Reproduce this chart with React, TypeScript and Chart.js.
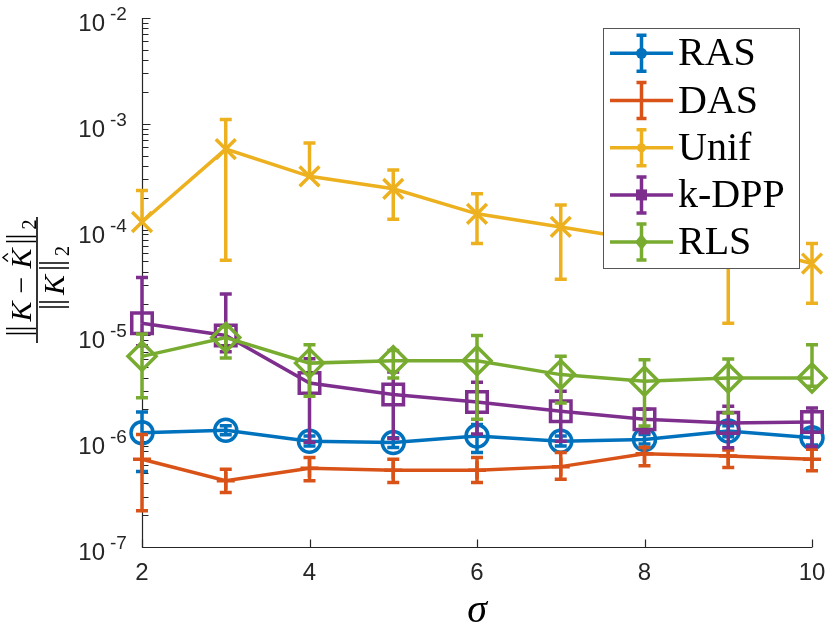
import React, { useEffect, useRef } from "react";
import { Chart, registerables } from "chart.js";

Chart.register(...registerables);

// ---------- data ----------
const sigma = [2, 3, 4, 5, 6, 7, 8, 9, 10];
const seriesNames = ["RAS", "DAS", "Unif", "k-DPP", "RLS"];
const seriesColors = ["#0072BD", "#D95319", "#EDB120", "#7E2F8E", "#77AC30"];

const rasMean = [1.2e-6, 1.27e-6, 1.0e-6, 9.7e-7, 1.12e-6, 1.0e-6, 1.04e-6, 1.25e-6, 1.08e-6];
const rasHigh = [1.89e-6, 1.4e-6, 1.12e-6, 1.08e-6, 1.44e-6, 1.12e-6, 1.16e-6, 1.4e-6, 1.25e-6];
const rasLow = [5.17e-7, 1.15e-6, 9.0e-7, 8.7e-7, 7.8e-7, 9.0e-7, 9.4e-7, 1.1e-6, 9.2e-7];

const dasMean = [6.75e-7, 4.23e-7, 5.56e-7, 5.32e-7, 5.32e-7, 5.75e-7, 7.6e-7, 7.26e-7, 6.75e-7];
const dasHigh = [1.16e-6, 5.44e-7, 7.0e-7, 6.76e-7, 7.0e-7, 7.8e-7, 8.7e-7, 8.26e-7, 8.4e-7];
const dasLow = [2.2e-7, 3.28e-7, 4.22e-7, 4.07e-7, 4.07e-7, 4.38e-7, 5.85e-7, 5.64e-7, 5.25e-7];

const unifMean = [1.18e-4, 5.77e-4, 3.19e-4, 2.43e-4, 1.41e-4, 1.06e-4, 7.9e-5, 7.6e-5, 4.78e-5];
const unifHigh = [2.34e-4, 1.1e-3, 6.57e-4, 3.66e-4, 2.18e-4, 1.71e-4, 1.3e-4, 1.2e-4, 7.37e-5];
const unifLow = [null, 5.14e-5, null, 1.25e-4, 7.37e-5, 3.4e-5, 4.5e-5, 1.3e-5, 2.01e-5];

const kdppMean = [1.3e-5, 9.97e-6, 3.55e-6, 2.76e-6, 2.35e-6, 1.92e-6, 1.61e-6, 1.49e-6, 1.52e-6];
const kdppHigh = [3.53e-5, 2.46e-5, 6.0e-6, 4.5e-6, 3.6e-6, 2.96e-6, 2.0e-6, 2.14e-6, 2.06e-6];
const kdppLow = [8.0e-6, 7.0e-6, 9.77e-7, 1.06e-6, 1.17e-6, 1.0e-6, 1.2e-6, 8.69e-7, 8.9e-7];

const rlsMean = [6.34e-6, 9.55e-6, 5.47e-6, 5.77e-6, 5.77e-6, 4.26e-6, 3.68e-6, 3.95e-6, 3.95e-6];
const rlsHigh = [1.03e-5, 1.2e-5, 8.16e-6, 7.2e-6, 9.97e-6, 6.34e-6, 5.89e-6, 5.97e-6, 8.16e-6];
const rlsLow = [2.57e-6, 6.1e-6, 2.66e-6, 3.95e-6, 1.61e-6, 2.3e-6, 1.39e-6, 1.85e-6, 3.3e-6];

const xTickValues = [2, 4, 6, 8, 10];
const yTickExponents = [-7, -6, -5, -4, -3, -2];
const xAxisTitle = "σ";

// ---------- styling ----------
const AXIS_COLOR = "#262626";
const SANS = '"Liberation Sans", Arial, sans-serif';
const SERIF = '"Liberation Serif", "Times New Roman", serif';
const LW = 3.5;

const markerStyles = [
  { style: "circle", radius: 11 },
  { style: "cross", radius: 9 },
  { style: "crossRot", radius: 14 },
  { style: "rect", radius: 14.5 },
  { style: "rectRot", radius: 14 },
];

const means = [rasMean, dasMean, unifMean, kdppMean, rlsMean];
const highs = [rasHigh, dasHigh, unifHigh, kdppHigh, rlsHigh];
const lows = [rasLow, dasLow, unifLow, kdppLow, rlsLow];

const errorBarPlugin = {
  id: "errorBars",
  afterDatasetDraw(chart: any, args: any) {
    const ds: any = chart.data.datasets[args.index];
    const { ctx } = chart;
    const xs = chart.scales.x;
    const ys = chart.scales.y;
    ctx.save();
    ctx.strokeStyle = ds.borderColor;
    ctx.lineWidth = LW;
    ctx.lineCap = "butt";
    const cap = 6;
    ds.data.forEach((p: any, i: number) => {
      const px = xs.getPixelForValue(p.x);
      const py = ys.getPixelForValue(p.y);
      const hi = ds.errHigh[i];
      const lo = ds.errLow[i];
      if (hi != null) {
        const yh = ys.getPixelForValue(hi);
        ctx.beginPath();
        ctx.moveTo(px, py);
        ctx.lineTo(px, yh);
        ctx.moveTo(px - cap, yh);
        ctx.lineTo(px + cap, yh);
        ctx.stroke();
      }
      if (lo != null) {
        const yl = ys.getPixelForValue(lo);
        ctx.beginPath();
        ctx.moveTo(px, py);
        ctx.lineTo(px, yl);
        ctx.moveTo(px - cap, yl);
        ctx.lineTo(px + cap, yl);
        ctx.stroke();
      }
    });
    ctx.restore();
  },
};

const axesPlugin = {
  id: "matlabAxes",
  beforeDatasetsDraw(chart: any) {
    const { ctx, chartArea } = chart;
    const xs = chart.scales.x;
    const ys = chart.scales.y;
    const left = Math.round(chartArea.left) + 0.5;
    const bottom = Math.round(chartArea.bottom) + 0.5;
    ctx.save();
    ctx.strokeStyle = AXIS_COLOR;
    ctx.lineWidth = 1.2;
    ctx.beginPath();
    ctx.moveTo(left, chartArea.top);
    ctx.lineTo(left, bottom);
    ctx.lineTo(chartArea.right, bottom);
    ctx.stroke();
    // y ticks (major + minor), inward
    ctx.beginPath();
    yTickExponents.forEach((e) => {
      const y = Math.round(ys.getPixelForValue(Math.pow(10, e))) + 0.5;
      ctx.moveTo(left, y);
      ctx.lineTo(left + 8, y);
      if (e < yTickExponents[yTickExponents.length - 1]) {
        for (let k = 2; k <= 9; k++) {
          const ym = Math.round(ys.getPixelForValue(k * Math.pow(10, e))) + 0.5;
          ctx.moveTo(left, ym);
          ctx.lineTo(left + 6, ym);
        }
      }
    });
    // x ticks, inward
    xTickValues.forEach((v) => {
      const x = Math.round(xs.getPixelForValue(v)) + 0.5;
      ctx.moveTo(x, bottom);
      ctx.lineTo(x, bottom - 8);
    });
    ctx.stroke();
    ctx.restore();
  },
  afterDraw(chart: any) {
    const { ctx, chartArea } = chart;
    const xs = chart.scales.x;
    const ys = chart.scales.y;
    ctx.save();
    ctx.fillStyle = AXIS_COLOR;
    // x tick labels
    ctx.font = `24px ${SANS}`;
    ctx.textAlign = "center";
    ctx.textBaseline = "alphabetic";
    xTickValues.forEach((v) => {
      ctx.fillText(String(v), xs.getPixelForValue(v), chartArea.bottom + 33);
    });
    // y tick labels 10^e
    yTickExponents.forEach((e) => {
      const y = ys.getPixelForValue(Math.pow(10, e));
      ctx.font = `24px ${SANS}`;
      ctx.textAlign = "right";
      ctx.fillText("10", 105, y + 13);
      ctx.font = `19px ${SANS}`;
      ctx.textAlign = "left";
      ctx.fillText(String(e), 110, y + 2);
    });
    // x axis title
    ctx.fillStyle = "#000";
    ctx.font = `italic 40px ${SERIF}`;
    ctx.textAlign = "center";
    ctx.fillText(xAxisTitle, (chartArea.left + chartArea.right) / 2, 622);

    // y axis title: fraction ||K - K^||_2 / ||K||_2, rotated
    drawYLabel(ctx, 37, 280);

    // legend
    drawLegend(chart);
    ctx.restore();
  },
};

type Item = { kind: "bars" } | { kind: "text"; t: string; font: string; dy?: number; hat?: boolean } | { kind: "gap"; w: number };

function itemWidth(ctx: CanvasRenderingContext2D, it: Item) {
  if (it.kind === "bars") return 19;
  if (it.kind === "gap") return it.w;
  ctx.font = it.font;
  return ctx.measureText(it.t).width;
}

function drawItems(ctx: CanvasRenderingContext2D, items: Item[], baseline: number) {
  const total = items.reduce((s, it) => s + itemWidth(ctx, it), 0);
  let x = -total / 2;
  items.forEach((it) => {
    const w = itemWidth(ctx, it);
    if (it.kind === "bars") {
      ctx.beginPath();
      ctx.lineWidth = 1.6;
      ctx.moveTo(x + 7, baseline + 5);
      ctx.lineTo(x + 7, baseline - 25);
      ctx.moveTo(x + 12, baseline + 5);
      ctx.lineTo(x + 12, baseline - 25);
      ctx.stroke();
    } else if (it.kind === "text") {
      ctx.font = it.font;
      ctx.fillText(it.t, x, baseline + (it.dy || 0));
      if (it.hat) {
        ctx.beginPath();
        ctx.lineWidth = 1.4;
        ctx.moveTo(x + w * 0.35, baseline - 23);
        ctx.lineTo(x + w * 0.55, baseline - 28);
        ctx.lineTo(x + w * 0.75, baseline - 23);
        ctx.stroke();
      }
    }
    x += w;
  });
}

function drawYLabel(ctx: CanvasRenderingContext2D, cx: number, cy: number) {
  ctx.save();
  ctx.translate(cx, cy);
  ctx.rotate(-Math.PI / 2);
  ctx.fillStyle = "#000";
  ctx.strokeStyle = "#000";
  ctx.textAlign = "left";
  ctx.textBaseline = "alphabetic";
  const it = `italic 30px ${SERIF}`;
  const nm = `30px ${SERIF}`;
  const sb = `20px ${SERIF}`;
  const num: Item[] = [
    { kind: "bars" },
    { kind: "text", t: "K", font: it },
    { kind: "gap", w: 8 },
    { kind: "text", t: "−", font: nm },
    { kind: "gap", w: 8 },
    { kind: "text", t: "K", font: it, hat: true },
    { kind: "bars" },
    { kind: "text", t: "2", font: sb, dy: 5 },
  ];
  const den: Item[] = [
    { kind: "bars" },
    { kind: "text", t: "K", font: it },
    { kind: "bars" },
    { kind: "text", t: "2", font: sb, dy: 5 },
  ];
  drawItems(ctx, num, -6);
  drawItems(ctx, den, 27);
  ctx.beginPath();
  ctx.lineWidth = 1.6;
  ctx.moveTo(-63, 0);
  ctx.lineTo(63, 0);
  ctx.stroke();
  ctx.restore();
}

function drawLegend(chart: any) {
  const { ctx } = chart;
  const bx = 603.5, by = 28.5, bw = 196, bh = 240;
  ctx.save();
  ctx.fillStyle = "#fff";
  ctx.fillRect(bx, by, bw, bh);
  ctx.strokeStyle = "#555";
  ctx.lineWidth = 1;
  ctx.strokeRect(bx, by, bw, bh);
  chart.data.datasets.forEach((ds: any, i: number) => {
    const cy = 53.3 + 47.2 * i;
    const col = ds.borderColor;
    ctx.strokeStyle = col;
    ctx.fillStyle = col;
    ctx.lineWidth = LW;
    ctx.beginPath();
    ctx.moveTo(610, cy);
    ctx.lineTo(673, cy);
    ctx.moveTo(641.5, cy - 18);
    ctx.lineTo(641.5, cy + 18);
    ctx.moveTo(636.5, cy - 18);
    ctx.lineTo(646.5, cy - 18);
    ctx.moveTo(636.5, cy + 18);
    ctx.lineTo(646.5, cy + 18);
    ctx.stroke();
    ctx.beginPath();
    const st = markerStyles[i].style;
    if (st === "circle") {
      ctx.arc(641.5, cy, 5.5, 0, Math.PI * 2);
    } else if (st === "crossRot") {
      ctx.arc(641.5, cy, 4.5, 0, Math.PI * 2);
    } else if (st === "rect") {
      ctx.rect(636, cy - 5.5, 11, 11);
    } else if (st === "rectRot") {
      ctx.moveTo(641.5, cy - 8);
      ctx.lineTo(648, cy);
      ctx.lineTo(641.5, cy + 8);
      ctx.lineTo(635, cy);
      ctx.closePath();
    }
    ctx.fill();
    ctx.fillStyle = "#000";
    ctx.font = `40px ${SERIF}`;
    ctx.textAlign = "left";
    ctx.textBaseline = "alphabetic";
    ctx.fillText(ds.label, 678, cy + 12);
  });
  ctx.restore();
}

export default function App() {
  const canvasRef = useRef<HTMLCanvasElement | null>(null);

  useEffect(() => {
    const canvas = canvasRef.current;
    if (!canvas) return;
    const datasets = seriesNames.map((name, i) => ({
      label: name,
      data: sigma.map((x, j) => ({ x, y: means[i][j] })),
      errHigh: highs[i],
      errLow: lows[i],
      borderColor: seriesColors[i],
      backgroundColor: seriesColors[i],
      borderWidth: LW,
      pointStyle: markerStyles[i].style,
      pointRadius: markerStyles[i].radius,
      pointHoverRadius: markerStyles[i].radius,
      pointBorderWidth: LW,
      pointBorderColor: seriesColors[i],
      pointBackgroundColor: "rgba(0,0,0,0)",
      tension: 0,
      fill: false,
      clip: false as any,
      order: seriesNames.length - 1 - i,
    }));
    const chart = new Chart(canvas, {
      type: "line",
      data: { datasets: datasets as any },
      options: {
        animation: false,
        responsive: false,
        events: [],
        layout: { padding: { left: 142, right: 16, top: 15, bottom: 80 } },
        plugins: { legend: { display: false }, tooltip: { enabled: false } },
        scales: {
          x: { type: "linear", min: 2, max: 10, display: false },
          y: { type: "logarithmic", min: 1e-7, max: 1e-2, display: false },
        },
      },
      plugins: [errorBarPlugin, axesPlugin],
    });
    return () => chart.destroy();
  }, []);

  return (
    <div style={{ position: "fixed", left: 0, top: 0, width: 830, height: 627, background: "#fff" }}>
      <canvas ref={canvasRef} width={830} height={627} style={{ width: 830, height: 627, display: "block" }} />
    </div>
  );
}
